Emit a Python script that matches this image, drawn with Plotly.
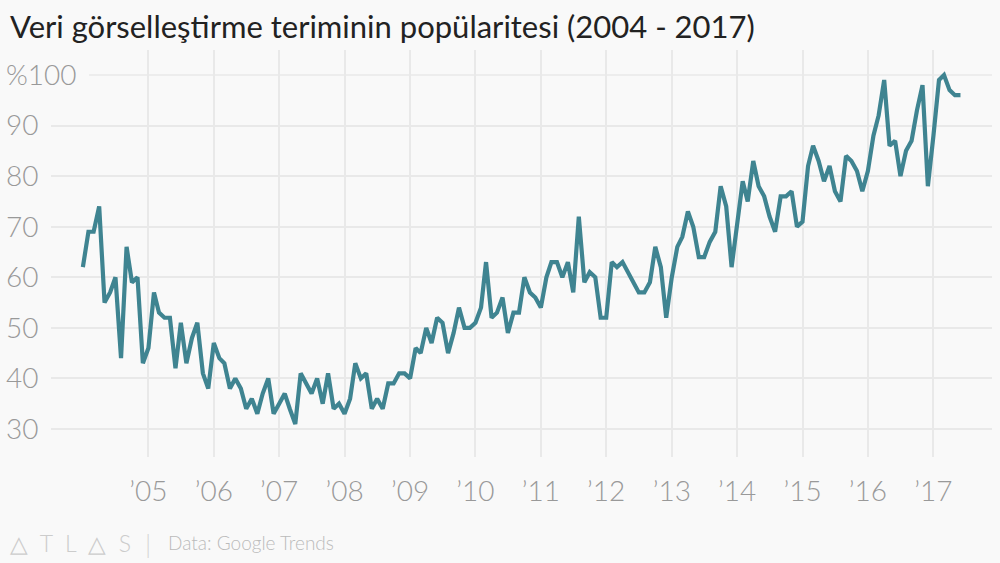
import pandas as pd
import plotly.graph_objects as go

# monthly search interest, Jan 2004 - Jun 2017
months = pd.date_range("2004-01-01", "2017-06-01", freq="MS")
interest = [
    62, 69, 69, 74, 55, 57, 60, 44, 66, 59, 60, 43,  # 2004
    46, 57, 53, 52, 52, 42, 51, 43, 48, 51, 41, 38,  # 2005
    47, 44, 43, 38, 40, 38, 34, 36, 33, 37, 40, 33,  # 2006
    35, 37, 34, 31, 41, 39, 37, 40, 35, 41, 34, 35,  # 2007
    33, 36, 43, 40, 41, 34, 36, 34, 39, 39, 41, 41,  # 2008
    40, 46, 45, 50, 47, 52, 51, 45, 49, 54, 50, 50,  # 2009
    51, 54, 63, 52, 53, 56, 49, 53, 53, 60, 57, 56,  # 2010
    54, 60, 63, 63, 60, 63, 57, 72, 59, 61, 60, 52,  # 2011
    52, 63, 62, 63, 61, 59, 57, 57, 59, 66, 62, 52,  # 2012
    60, 66, 68, 73, 70, 64, 64, 67, 69, 78, 74, 62,  # 2013
    70, 79, 75, 83, 78, 76, 72, 69, 76, 76, 77, 70,  # 2014
    71, 82, 86, 83, 79, 82, 77, 75, 84, 83, 81, 77,  # 2015
    81, 88, 92, 99, 86, 87, 80, 85, 87, 93, 98, 78,  # 2016
    88, 99, 100, 97, 96, 96,                         # 2017
]

year_ticks = pd.date_range("2005-01-01", "2017-01-01", freq="YS")
year_labels = ["\u2019%02d" % (d.year % 100) for d in year_ticks]
y_ticks = [30, 40, 50, 60, 70, 80, 90, 100]
y_labels = ["30", "40", "50", "60", "70", "80", "90", "%100"]

GRID = "#e9e9e9"
BG = "#f9f9f9"
FONT = "Lato"

fig = go.Figure()
fig.add_trace(go.Scatter(
    x=months, y=interest, mode="lines",
    line=dict(color="#3f8491", width=4.2),
    hoverinfo="x+y",
))

fig.update_layout(
    width=1000, height=563,
    margin=dict(l=51, r=8, t=50, b=106, autoexpand=False),
    paper_bgcolor=BG, plot_bgcolor=BG,
    showlegend=False,
    font=dict(family=FONT, color="#999999"),
    title=dict(
        text="Veri görselleştirme teriminin popülaritesi (2004 - 2017)",
        xref="container", x=0.01, xanchor="left",
        yref="container", y=0.952, yanchor="middle",
        font=dict(family=FONT, size=31, color="#222222"),
    ),
)

fig.update_xaxes(
    type="date", automargin=False,
    range=["2003-07-07", "2017-11-24"],
    tickvals=year_ticks, ticktext=year_labels,
    showgrid=True, gridcolor=GRID, gridwidth=1.5,
    zeroline=False, showline=False,
    ticks="", ticklabelstandoff=15,
    tickfont=dict(family=FONT, size=28, color="#999999", weight=300),
)

fig.update_yaxes(
    range=[24.46, 104.94], automargin=False,
    tickvals=y_ticks, ticktext=y_labels,
    showgrid=False, zeroline=False, showline=False,
    ticks="", ticklabelposition="inside", ticklabelstandoff=-48,
    tickfont=dict(family=FONT, size=28, color="#999999", weight=300),
    minor=dict(tickvals=y_ticks[:-1], showgrid=True, gridcolor=GRID,
               gridwidth=1.5, ticks=""),
)

# the top gridline starts after the wider "%100" label
fig.add_shape(type="line", layer="below",
              xref="paper", x0=0.0404, x1=1,
              yref="y", y0=y_ticks[-1], y1=y_ticks[-1],
              line=dict(color=GRID, width=1.5))

# footer
fig.add_annotation(text="\u25b3  T  L  \u25b3  S", xref="paper", yref="paper",
                   x=-0.0457, y=-0.211, xanchor="left", yanchor="middle",
                   showarrow=False,
                   font=dict(family=FONT, size=23, color="#cccccc", weight=300))
fig.add_annotation(text="|", xref="paper", yref="paper",
                   x=0.103, y=-0.211, xanchor="center", yanchor="middle",
                   showarrow=False,
                   font=dict(family=FONT, size=26, color="#d5d5d5", weight=300))
fig.add_annotation(text="Data: Google Trends", xref="paper", yref="paper",
                   x=0.122, y=-0.211, xanchor="left", yanchor="middle",
                   showarrow=False,
                   font=dict(family=FONT, size=19, color="#bbbbbb", weight=300))

fig.write_html("out.html", config={"displayModeBar": False},
               post_script="document.body.style.margin='0';")
